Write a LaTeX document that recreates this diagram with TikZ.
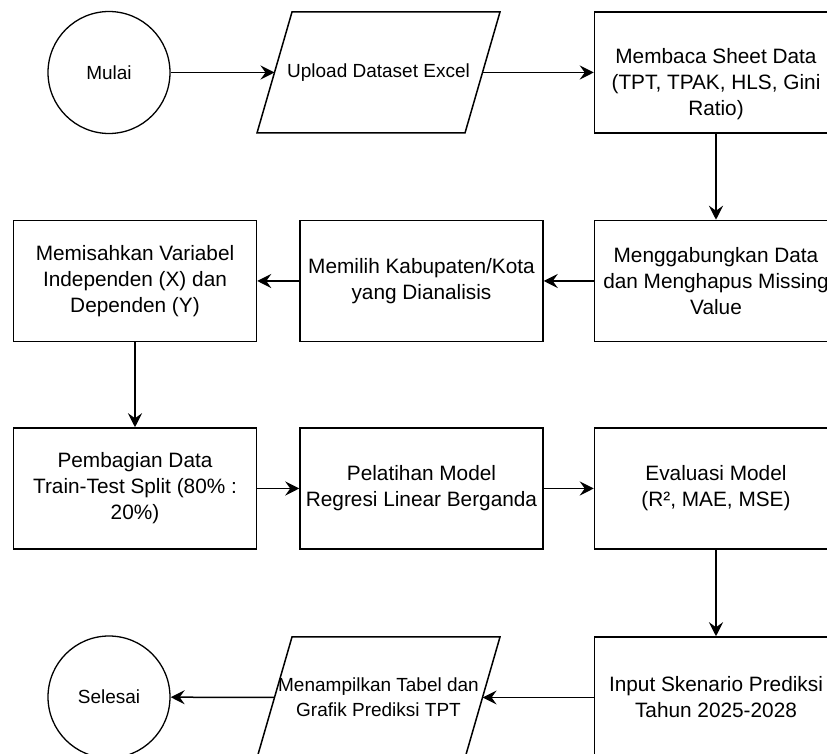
\documentclass[tikz,border=0pt]{standalone}
\usepackage{fontspec}
\setmainfont{Liberation Sans}
\usetikzlibrary{arrows.meta}
\begin{document}
\begin{tikzpicture}[x=0.5pt,y=-0.5pt,
  box/.style={draw, line width=0.75pt, minimum width=121.5pt, minimum height=60.5pt, inner sep=0pt, align=center, font=\fontsize{10.4}{13}\selectfont},
  term/.style={draw, circle, line width=0.65pt, minimum size=61pt, inner sep=0pt, font=\fontsize{9.5}{12.5}\selectfont},
  iotext/.style={inner sep=0pt, align=center, font=\fontsize{9.5}{12.5}\selectfont},
  ioshape/.style={draw, line width=0.75pt, line join=miter},
  flow/.style={-{Stealth[length=7pt,width=7pt,inset=2.5pt]}, line width=0.75pt}]
\useasboundingbox (0,0) rectangle (827,754);
% row 1
\node[term] (mulai) at (109,72.5) {Mulai};
\draw[ioshape] (257,133) -- (292,12) -- (500,12) -- (465,133) -- cycle;
\node[iotext] (upload) at (378.5,72.5) {Upload Dataset Excel};
\coordinate (uploadL) at (274.5,72.5);
\coordinate (uploadR) at (482.5,72.5);
\node[box] (membaca) at (716,72.5) {\rule{0pt}{19.5pt}Membaca Sheet Data\\(TPT, TPAK, HLS, Gini\\Ratio)};
% row 2
\node[box] (memisah) at (135,281) {Memisahkan Variabel\\Independen (X) dan\\Dependen (Y)};
\node[box] (memilih) at (421.5,281) {Memilih Kabupaten/Kota\\yang Dianalisis};
\node[box] (gabung) at (716,281) {Menggabungkan Data\\dan Menghapus Missing\\Value};
% row 3
\node[box] (bagi) at (135,488.5) {Pembagian Data\\Train-Test Split (80\% :\\20\%)};
\node[box] (latih) at (421.5,488.5) {Pelatihan Model\\Regresi Linear Berganda};
\node[box] (eval) at (716,488.5) {Evaluasi Model\\(R², MAE, MSE)};
% row 4
\node[term] (selesai) at (109,697) {Selesai};
\draw[ioshape] (257,758) -- (292,637) -- (500,637) -- (465,758) -- cycle;
\node[iotext] (tampil) at (378.5,697.5) {Menampilkan Tabel dan\\Grafik Prediksi TPT};
\coordinate (tampilL) at (274.6,697.5);
\coordinate (tampilR) at (482.6,697.5);
\node[box] (input) at (716,697.5) {Input Skenario Prediksi\\Tahun 2025-2028};
% connectors
\draw[flow] (mulai) -- (uploadL);
\draw[flow] (uploadR) -- (membaca);
\draw[flow] (membaca) -- (gabung);
\draw[flow] (gabung) -- (memilih);
\draw[flow] (memilih) -- (memisah);
\draw[flow] (memisah) -- (bagi);
\draw[flow] (bagi) -- (latih);
\draw[flow] (latih) -- (eval);
\draw[flow] (eval) -- (input);
\draw[flow] (input) -- (tampilR);
\draw[flow] (tampilL) -- (selesai);
\end{tikzpicture}
\end{document}
